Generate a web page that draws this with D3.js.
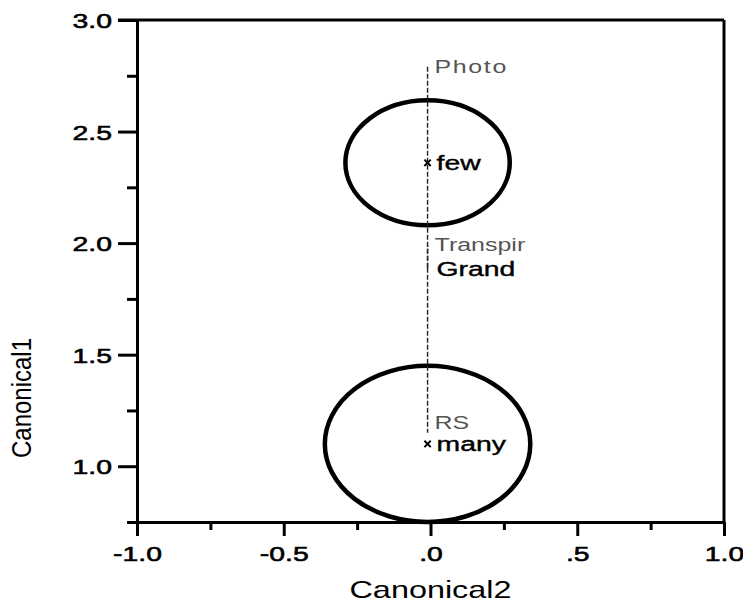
<!DOCTYPE html>
<html>
<head>
<meta charset="utf-8">
<script src="https://cdn.jsdelivr.net/npm/d3@7"></script>
<style>
  html, body { margin: 0; padding: 0; background: #fff; }
  svg { display: block; }
  text { font-family: "Liberation Sans", Arial, sans-serif; }
</style>
</head>
<body>
<svg id="chart" width="743" height="603"></svg>
<script>
// Axis ticks
const xMajorTicks = [-1, -0.5, 0, 0.5, 1];
const xMajorLabels = ["-1.0", "-0.5", ".0", ".5", "1.0"];
const xMinorTicks = [-0.75, -0.25, 0.25, 0.75];
const yMajorTicks = [1.0, 1.5, 2.0, 2.5, 3.0];
const yMajorLabels = ["1.0", "1.5", "2.0", "2.5", "3.0"];
const yMinorTicks = [0.75, 1.25, 1.75, 2.25, 2.75];

// Group means (Canonical2, Canonical1) and confidence-circle radii
const groups = ["few", "many"];
const groupCan2 = [-0.01, -0.01];
const groupCan1 = [2.36, 1.10];
const groupRadius = [0.28, 0.35];

// Biplot rays from the grand mean
const grandCan2 = -0.01;
const grandCan1 = 1.89;
const rayVars = ["Photo", "Transpir", "RS"];
const rayCan2 = [-0.01, -0.01, -0.01];
const rayCan1 = [2.79, 1.99, 1.15];

const svg = d3.select("#chart");
const plotL = 137, plotR = 724, plotT = 20, plotB = 522;
const stretch = 1.35;

const x = d3.scaleLinear().domain([-1, 1]).range([plotL, plotR]);
const y = d3.scaleLinear().domain([0.75, 3]).range([plotB, plotT]);

// Frame: top and right edges
svg.append("line").attr("x1", plotL - 19).attr("x2", plotR).attr("y1", plotT).attr("y2", plotT)
  .attr("stroke", "#000").attr("stroke-width", 3);
svg.append("line").attr("x1", plotR).attr("x2", plotR).attr("y1", plotT).attr("y2", plotB)
  .attr("stroke", "#000").attr("stroke-width", 3);

function styleAxis(g) {
  g.select(".domain").attr("stroke", "#000").attr("stroke-width", 3);
  g.selectAll(".tick line").attr("stroke", "#000").attr("stroke-width", 3);
}

// Minor ticks
svg.append("g").attr("transform", `translate(0,${plotB})`)
  .call(d3.axisBottom(x).tickValues(xMinorTicks).tickSize(8).tickSizeOuter(0).tickFormat(""))
  .call(styleAxis);
svg.append("g").attr("transform", `translate(${plotL},0)`)
  .call(d3.axisLeft(y).tickValues(yMinorTicks).tickSize(10).tickSizeOuter(0).tickFormat(""))
  .call(styleAxis);

// Major ticks with labels
const xAxis = svg.append("g").attr("transform", `translate(0,${plotB})`)
  .call(d3.axisBottom(x).tickValues(xMajorTicks).tickSize(14).tickSizeOuter(0)
    .tickFormat((d, i) => xMajorLabels[i]))
  .call(styleAxis);
xAxis.selectAll(".tick text")
  .attr("font-size", 21).attr("fill", "#000")
  .attr("stroke", "#000").attr("stroke-width", 0.6)
  .attr("y", 0).attr("dy", 0)
  .attr("transform", `translate(0,39) scale(${stretch},1)`);

const yAxis = svg.append("g").attr("transform", `translate(${plotL},0)`)
  .call(d3.axisLeft(y).tickValues(yMajorTicks).tickSize(19).tickSizeOuter(0)
    .tickFormat((d, i) => yMajorLabels[i]))
  .call(styleAxis);
yAxis.selectAll(".tick text")
  .attr("font-size", 21).attr("fill", "#000")
  .attr("stroke", "#000").attr("stroke-width", 0.6)
  .attr("x", 0).attr("dy", "0.36em")
  .attr("transform", `translate(-25,0) scale(${stretch},1)`);

// Axis titles
svg.append("text")
  .attr("transform", `translate(${(plotL + plotR) / 2},598) scale(${stretch},1)`)
  .attr("text-anchor", "middle").attr("font-size", 24).attr("fill", "#000")
  .text("Canonical2");
svg.append("text")
  .attr("transform", `translate(31,398) scale(1.12,1) rotate(-90)`)
  .attr("text-anchor", "middle").attr("font-size", 24).attr("fill", "#000")
  .text("Canonical1");

// Confidence circles (circles in data units, drawn as ellipses)
svg.append("g").selectAll("ellipse").data(groups).join("ellipse")
  .attr("cx", (d, i) => x(groupCan2[i]))
  .attr("cy", (d, i) => y(groupCan1[i]))
  .attr("rx", (d, i) => x(groupRadius[i]) - x(0))
  .attr("ry", (d, i) => y(0) - y(groupRadius[i]))
  .attr("fill", "none").attr("stroke", "#000").attr("stroke-width", 4.5);

// Biplot rays
svg.append("g").selectAll("line").data(rayVars).join("line")
  .attr("x1", x(grandCan2)).attr("y1", y(grandCan1))
  .attr("x2", (d, i) => x(rayCan2[i])).attr("y2", (d, i) => y(rayCan1[i]))
  .attr("stroke", "#222").attr("stroke-width", 1.4).attr("stroke-dasharray", "5,2");

svg.append("g").selectAll("text").data(rayVars).join("text")
  .attr("transform", (d, i) => {
    const up = rayCan1[i] >= grandCan1;
    const ty = y(rayCan1[i]) + (up ? 6 : -4);
    return `translate(${x(rayCan2[i]) + 7},${ty}) scale(${stretch},1)`;
  })
  .attr("font-size", 18.5).attr("fill", "#555")
  .attr("letter-spacing", d => d === "Photo" ? 1.2 : 0)
  .text(d => d);

// Grand mean label
svg.append("text")
  .attr("transform", `translate(${x(grandCan2) + 9},${y(grandCan1) + 8}) scale(${stretch},1)`)
  .attr("font-size", 21).attr("fill", "#000")
  .attr("stroke", "#000").attr("stroke-width", 0.4)
  .text("Grand");

// Group means: x markers and labels
svg.append("g").selectAll("path").data(groups).join("path")
  .attr("transform", (d, i) => `translate(${x(groupCan2[i])},${y(groupCan1[i])})`)
  .attr("d", d3.symbol(d3.symbolTimes, 28))
  .attr("stroke", "#000").attr("stroke-width", 2).attr("fill", "none");

svg.append("g").selectAll("text").data(groups).join("text")
  .attr("transform", (d, i) => `translate(${x(groupCan2[i]) + 9},${y(groupCan1[i]) + 7}) scale(${stretch},1)`)
  .attr("font-size", 21).attr("fill", "#000")
  .attr("stroke", "#000").attr("stroke-width", 0.4)
  .text(d => d);
</script>
</body>
</html>
